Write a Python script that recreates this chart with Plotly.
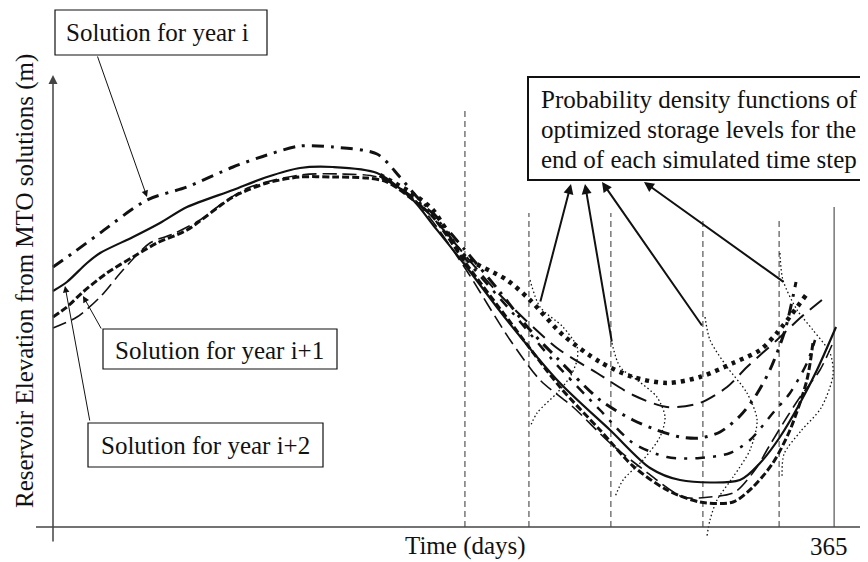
import plotly.graph_objects as go

# page body adds an 8px margin, so the figure is drawn 8px smaller and all layout
# positions below are given in page pixels of the reference
OFF = 8
W, H = 868 - OFF, 562 - OFF

# ---- data (days, elevation relative units) ----
solid_day = [0, 6.5, 15.9, 22.0, 37.4, 50.0, 62.6, 84.1, 100.0, 115.4, 130.8, 151.4, 168.2, 177.6,
             192.5, 212.1, 236.9, 260.3, 279.0, 293.0, 321.0, 330.4, 339.7, 349.1, 357.0, 365.9]
solid_elev = [236, 245, 264, 274, 290, 304, 320, 337, 350, 359, 360, 354, 327, 302,
              262, 207, 144, 97, 59, 47, 47, 64, 90, 124, 157, 200]

yri_day = [0, 9.3, 22.0, 43.9, 62.6, 84.1, 100.0, 115.4, 130.8, 151.4, 162.1, 170.1, 177.6, 192.5,
           208.9, 222.9, 235.5, 255.6, 271.0, 282.2, 293.0, 302.3, 311.7, 321.0, 328.0, 335.0, 342.1, 347.2]
yri_elev = [260, 274, 294, 327, 340, 360, 372, 381, 380, 373, 350, 330, 314, 277,
            235, 197, 169, 127, 107, 97, 90, 89, 95, 111, 130, 157, 197, 245]

yri1_day = [0, 6.5, 14.0, 25.2, 37.4, 48.6, 62.6, 84.1, 100.0, 115.4, 130.8, 146.7, 156.1, 170.1, 177.6,
            192.5, 213.6, 236.9, 255.6, 271.0, 286.9, 302.3, 317.8, 327.1, 336.4, 344.4, 352.3, 355.1]
yri1_elev = [210, 220, 235, 254, 270, 284, 297, 330, 344, 350, 350, 349, 345, 324, 310,
             265, 205, 140, 97, 61, 37, 25, 25, 40, 64, 97, 147, 184]

ld_day = [0, 11.2, 22.0, 32.7, 45.3, 56.1, 68.7, 81.3, 92.1, 115.4, 134.1, 151.4, 166.8, 177.6,
          192.5, 213.6, 227.6, 243.0, 260.3, 274.3, 294.4, 307.0, 318.7, 328.0, 335.0, 343.0, 349.1, 358.4, 364.0]
ld_elev = [199, 210, 230, 257, 284, 293, 307, 327, 340, 352, 353, 350, 332, 305,
           259, 187, 147, 120, 84, 60, 30, 30, 35, 57, 82, 110, 130, 157, 182]

hd_day = [152.8, 166.8, 177.6, 191.6, 212.1, 222.9, 238.3, 255.6, 271.0, 286.9, 302.3, 317.8, 330.4, 338.3, 351.9]
hd_elev = [352, 335, 317, 272, 247, 227, 192, 165, 150, 144, 150, 164, 177, 194, 232]

md_day = [152.8, 166.8, 177.6, 192.5, 208.9, 235.5, 254.2, 271.0, 286.9, 302.3, 315.0, 324.3, 338.3, 349.1, 359.3]
md_elev = [351, 332, 309, 272, 232, 179, 154, 132, 120, 124, 140, 160, 187, 209, 227]

dd_day = [152.8, 166.8, 177.6, 192.5, 213.6, 235.5, 255.6, 271.0, 286.9, 302.3, 316.4, 325.7, 336.4, 344.4, 352.3, 356.1]
dd_elev = [351, 331, 313, 269, 217, 162, 117, 84, 70, 69, 74, 87, 114, 134, 164, 187]

pdf1_day = [222.9, 227.6, 238.3, 244.9, 244.9, 241.6, 235.5, 226.2, 222.9]
pdf1_elev = [247, 220, 200, 180, 167, 150, 134, 114, 100]
pdf2_day = [261.2, 265.0, 272.9, 282.2, 286.0, 283.6, 275.7, 266.4, 262.6]
pdf2_elev = [184, 160, 147, 130, 110, 90, 67, 47, 30]
pdf3_day = [304.7, 307.0, 315.0, 324.3, 329.0, 325.7, 317.8, 310.3, 307.0, 305.6]
pdf3_elev = [210, 187, 160, 134, 107, 77, 50, 27, 7, -9]
pdf4_day = [339.7, 341.1, 347.7, 355.1, 363.1, 364.5, 358.9, 349.5, 341.6, 340.7]
pdf4_elev = [274, 247, 217, 197, 174, 152, 119, 96, 73, 49]

step_days = [192.5, 222.4, 260.7, 303.7, 339.3]
step_tops = [420, 314, 314, 307, 307]
end_day = 365
end_top = 320

INK = "#111111"
fig = go.Figure()

def curve(x, y, width, dash, shape="spline"):
    fig.add_trace(go.Scatter(x=x, y=y, mode="lines",
                             line=dict(color=INK, width=width, dash=dash, shape=shape, smoothing=0.8),
                             hoverinfo="skip", showlegend=False))

# time-step vertical lines
for d, t in zip(step_days, step_tops):
    fig.add_trace(go.Scatter(x=[d, d], y=[0, t], mode="lines",
                             line=dict(color="#333333", width=1, dash="6px,4px"),
                             hoverinfo="skip", showlegend=False))
fig.add_trace(go.Scatter(x=[end_day, end_day], y=[0, end_top], mode="lines",
                         line=dict(color="#333333", width=1), hoverinfo="skip", showlegend=False))

# PDFs
for px_, py_ in [(pdf1_day, pdf1_elev), (pdf2_day, pdf2_elev), (pdf3_day, pdf3_elev), (pdf4_day, pdf4_elev)]:
    curve(px_, py_, 1.3, "1.5px,2.5px")

# solutions
curve(ld_day, ld_elev, 1.6, "14px,6px")
curve(md_day, md_elev, 2.0, "16px,8px")
curve(dd_day, dd_elev, 2.5, "10px,8px,3px,8px")
curve(hd_day, hd_elev, 4.5, "4px,5px")
curve(yri1_day, yri1_elev, 3.0, "7px,3px")
curve(solid_day, solid_elev, 2.2, "solid")
curve(yri_day, yri_elev, 3.0, "12px,7px,3px,7px")

def px(x):
    return (x - OFF) / W

def py(y):
    return 1 - (y - OFF) / H

shapes = []
# x axis
shapes.append(dict(type="line", xref="paper", yref="paper", x0=px(36), x1=px(868), y0=py(527), y1=py(527),
                   line=dict(color="#444444", width=1.5)))
# boxes
for (x0, y0, x1, y1, lw) in [(55, 10, 267, 55, 1.2), (103, 329, 337, 369, 1.2),
                             (88, 423, 323, 467, 1.2), (528, 77, 866, 180, 2)]:
    shapes.append(dict(type="rect", xref="paper", yref="paper", x0=px(x0), x1=px(x1), y0=py(y0), y1=py(y1),
                       line=dict(color=INK, width=lw), fillcolor="rgba(255,255,255,0)"))

FONT = dict(family="Liberation Serif, Times New Roman, serif", size=25, color=INK)
ann = []

def text(x, y, s, xanchor="center", angle=0):
    ann.append(dict(xref="paper", yref="paper", x=px(x), y=py(y), text=s, showarrow=False,
                    xanchor=xanchor, yanchor="middle", font=FONT, textangle=angle))

def arrow(tx, ty, hx, hy, width, size=1.0, color=INK):
    ann.append(dict(xref="paper", yref="paper", x=px(hx), y=py(hy), ax=tx - hx, ay=ty - hy,
                    axref="pixel", ayref="pixel", text="", showarrow=True,
                    arrowhead=2, arrowsize=size, arrowwidth=width, arrowcolor=color, standoff=0))

# y axis as arrow
arrow(53, 543, 53, 75, 1.5, 1.2, "#444444")

text(157, 33, "Solution for year i")
text(219, 350, "Solution for year i+1")
text(205, 445, "Solution for year i+2")
text(539, 99, "Probability density functions of", xanchor="left")
text(539, 129, "optimized storage levels for the", xanchor="left")
text(539, 159, "end of each simulated time step", xanchor="left")
text(465, 546, "Time (days)")
text(829, 546, "365")
text(25, 281, "Reservoir Elevation from MTO solutions (m)", angle=-90)

arrow(97, 55, 147, 197, 1, 1.3)
arrow(102, 330, 83, 296, 1, 1.3)
arrow(90, 422, 65, 286, 1, 1.3)
arrow(540, 303, 571, 184, 2, 1.0)
arrow(612, 343, 585, 184, 2, 1.0)
arrow(703, 327, 602, 182, 2, 1.0)
arrow(785, 283, 644, 182, 2, 1.0)

x_lo = (OFF - 53) / 2.14
x_hi = (868 - 53) / 2.14
fig.update_layout(
    width=W, height=H, autosize=False,
    margin=dict(l=0, r=0, t=0, b=0),
    paper_bgcolor="white", plot_bgcolor="white",
    xaxis=dict(range=[x_lo, x_hi], visible=False, fixedrange=True),
    yaxis=dict(range=[527 - 562, 527 - OFF], visible=False, fixedrange=True),
    shapes=shapes, annotations=ann, showlegend=False,
)

fig.write_html("out.html")
